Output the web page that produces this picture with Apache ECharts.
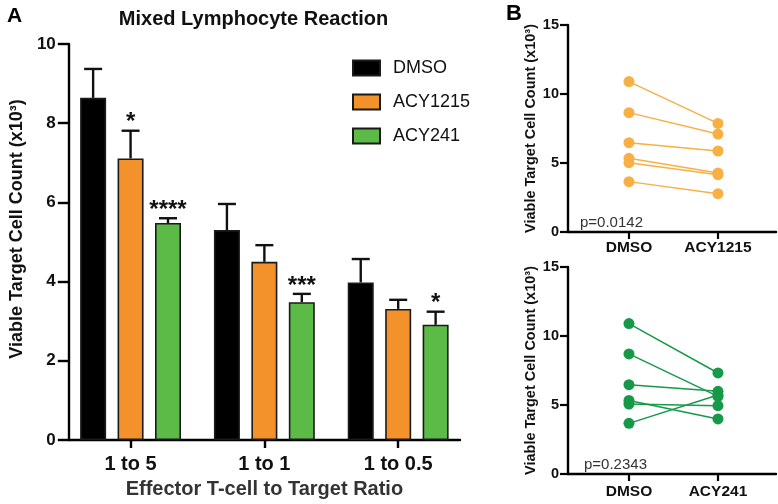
<!DOCTYPE html>
<html>
<head>
<meta charset="utf-8">
<script src="https://cdn.jsdelivr.net/npm/echarts@6/dist/echarts.min.js"></script>
<style>
html,body{margin:0;padding:0;background:#fff;}
#c{width:778px;height:504px;}
</style>
</head>
<body>
<div id="c"></div>
<script>
// ---------- DATA ----------
const ratioCategories = ['1 to 5', '1 to 1', '1 to 0.5'];
const seriesNames = ['DMSO', 'ACY1215', 'ACY241'];
const dmsoMean = [8.64, 5.30, 3.98];
const dmsoErrTop = [9.37, 5.96, 4.57];
const acy1215Mean = [7.11, 4.50, 3.31];
const acy1215ErrTop = [7.81, 4.92, 3.54];
const acy241Mean = [5.48, 3.48, 2.91];
const acy241ErrTop = [5.60, 3.69, 3.24];
const sigDMSO = ['', '', ''];
const sigACY1215 = ['*', '', ''];
const sigACY241 = ['****', '***', '*'];

const pairedCategoriesTop = ['DMSO', 'ACY1215'];
const pairedCategoriesBottom = ['DMSO', 'ACY241'];
const donorDMSO_top = [10.9, 8.65, 6.47, 5.34, 5.02, 3.65];
const donorACY1215 = [7.87, 7.10, 5.87, 4.27, 4.15, 2.78];
const donorDMSO_bottom = [10.9, 8.70, 6.47, 5.33, 5.07, 3.67];
const donorACY241 = [7.32, 5.62, 5.99, 3.99, 4.95, 5.72];
const pValueTop = 'p=0.0142';
const pValueBottom = 'p=0.2343';

const yTicksA = {min: 0, max: 10, interval: 2};
const yTicksB = {min: 0, max: 15, interval: 5};

// ---------- STYLE ----------
const FONT = "'Liberation Sans', Arial, sans-serif";
const colorsA = ['#000000', '#F3922B', '#5CBA47'];
const orangeB = '#F8B045';
const greenB = '#17994A';
const BAR_W = 26, BAR_GAP = 0.44;
const SPACING = BAR_W * (1 + BAR_GAP);

const means = [dmsoMean, acy1215Mean, acy241Mean];
const errTops = [dmsoErrTop, acy1215ErrTop, acy241ErrTop];
const sigs = [sigDMSO, sigACY1215, sigACY241];
const catIdx = ratioCategories.map((c, k) => k);

const series = [];
seriesNames.forEach((name, i) => {
  series.push({
    name: name, type: 'bar', xAxisIndex: 0, yAxisIndex: 0,
    data: means[i].map((m, k) => [catIdx[k], m]), barWidth: BAR_W, barGap: (BAR_GAP * 100) + '%',
    itemStyle: {color: colorsA[i], borderColor: '#1a1a1a', borderWidth: 1.6},
    animation: false
  });
});
seriesNames.forEach((name, i) => {
  const off = (i - 1) * SPACING;
  series.push({
    type: 'custom', xAxisIndex: 0, yAxisIndex: 0, z: 5,
    data: means[i].map((m, k) => [catIdx[k], m, errTops[i][k]]),
    renderItem: function (params, api) {
      const k = api.value(0);
      const pBase = api.coord([k, api.value(1)]);
      const pTop = api.coord([k, api.value(2)]);
      const x = pBase[0] + off;
      const cap = 9;
      const children = [
        {type: 'line', shape: {x1: x, y1: pBase[1], x2: x, y2: pTop[1]}, style: {stroke: '#111', lineWidth: 2.4}},
        {type: 'line', shape: {x1: x - cap, y1: pTop[1], x2: x + cap, y2: pTop[1]}, style: {stroke: '#111', lineWidth: 2.4}}
      ];
      const s = sigs[i][params.dataIndex];
      if (s) {
        children.push({type: 'text', style: {text: s, x: x, y: pTop[1] - 8, textAlign: 'center', textVerticalAlign: 'middle', font: 'bold 24px ' + FONT, fill: '#111'}});
      }
      return {type: 'group', children: children};
    },
    animation: false, silent: true
  });
});

function pairedSeries(dmso, drug, color, axisIdx) {
  dmso.forEach((v, i) => {
    series.push({
      type: 'line', xAxisIndex: axisIdx, yAxisIndex: axisIdx,
      data: [[0, v], [1, drug[i]]],
      symbol: 'circle', symbolSize: 11, showSymbol: true,
      lineStyle: {color: color, width: 1.5},
      itemStyle: {color: color},
      animation: false, silent: true
    });
  });
}
pairedSeries(donorDMSO_top, donorACY1215, orangeB, 1);
pairedSeries(donorDMSO_bottom, donorACY241, greenB, 2);

const axisLine = {show: true, onZero: false, lineStyle: {color: '#000', width: 2.4}};
const yName = 'Viable Target Cell Count (x10³)';

function pairedX(gridIndex, cats, margin) {
  return {
    type: 'value', gridIndex: gridIndex, min: -0.685, max: 1.652,
    splitLine: {show: false}, axisLine: axisLine,
    axisTick: {show: true, length: 7, lineStyle: {color: '#000', width: 2.2}, customValues: [0, 1]},
    axisLabel: {customValues: [0, 1], formatter: v => cats[Math.round(v)], margin: margin,
      fontFamily: FONT, fontWeight: 'bold', fontSize: 15.5, color: '#111'}
  };
}
function pairedY(gridIndex) {
  return {
    type: 'value', gridIndex: gridIndex, min: yTicksB.min, max: yTicksB.max, interval: yTicksB.interval,
    splitLine: {show: false}, axisLine: axisLine,
    axisTick: {show: true, length: 8, lineStyle: {color: '#000', width: 2.2}},
    axisLabel: {margin: 9, fontFamily: FONT, fontWeight: 'bold', fontSize: 14.5, color: '#111'},
    name: yName, nameLocation: 'middle', nameGap: 30,
    nameTextStyle: {fontFamily: FONT, fontWeight: 'bold', fontSize: 14.5, color: '#111'}
  };
}

const option = {
  backgroundColor: '#fff',
  animation: false,
  textStyle: {fontFamily: FONT},
  title: [
    {text: 'A', left: 2, top: 1, textStyle: {fontFamily: FONT, fontWeight: 'bold', fontSize: 21, color: '#000'}},
    {text: 'Mixed Lymphocyte Reaction', left: 248.5, top: 4, textAlign: 'center', textStyle: {fontFamily: FONT, fontWeight: 'bold', fontSize: 20, color: '#111'}},
    {text: 'B', left: 501, top: -2, textStyle: {fontFamily: FONT, fontWeight: 'bold', fontSize: 22, color: '#000'}},
    {text: pValueTop, left: 575, top: 210, textStyle: {fontFamily: FONT, fontWeight: 'normal', fontSize: 15, color: '#333'}},
    {text: pValueBottom, left: 579, top: 452, textStyle: {fontFamily: FONT, fontWeight: 'normal', fontSize: 15, color: '#333'}}
  ],
  legend: {
    data: seriesNames, orient: 'vertical', left: 352, top: 59, padding: 0,
    itemWidth: 27, itemHeight: 15, itemGap: 16, icon: 'rect',
    textStyle: {fontFamily: FONT, fontSize: 18, color: '#111', padding: [0, 0, 0, 8]},
    selectedMode: false
  },
  grid: [
    {left: 61, top: 44, width: 399, height: 398},
    {left: 568, top: 25, width: 208, height: 207},
    {left: 568, top: 267, width: 208, height: 207}
  ],
  xAxis: [
    {
      type: 'value', gridIndex: 0, min: -0.4615, max: 2.462,
      splitLine: {show: false}, axisLine: axisLine,
      axisTick: {show: true, length: 8, lineStyle: {color: '#000', width: 2.4}, customValues: catIdx},
      axisLabel: {customValues: catIdx, formatter: v => ratioCategories[Math.round(v)], margin: 14,
        fontFamily: FONT, fontWeight: 'bold', fontSize: 20, color: '#111'},
      name: 'Effector T-cell to Target Ratio', nameLocation: 'middle', nameGap: 39,
      nameTextStyle: {fontFamily: FONT, fontWeight: 'bold', fontSize: 20, color: '#333'}
    },
    pairedX(1, pairedCategoriesTop, 8),
    pairedX(2, pairedCategoriesBottom, 10)
  ],
  yAxis: [
    {
      type: 'value', gridIndex: 0, min: yTicksA.min, max: yTicksA.max, interval: yTicksA.interval,
      splitLine: {show: false}, axisLine: axisLine,
      axisTick: {show: true, length: 11, lineStyle: {color: '#000', width: 2.4}},
      axisLabel: {margin: 13, fontFamily: FONT, fontWeight: 'bold', fontSize: 17, color: '#111'},
      name: yName, nameLocation: 'middle', nameGap: 34,
      nameTextStyle: {fontFamily: FONT, fontWeight: 'bold', fontSize: 18, color: '#111', padding: [0, 0, 0, 26]}
    },
    pairedY(1),
    pairedY(2)
  ],
  series: series
};

const chart = echarts.init(document.getElementById('c'), null, {renderer: 'canvas'});
chart.setOption(option);
</script>
</body>
</html>
